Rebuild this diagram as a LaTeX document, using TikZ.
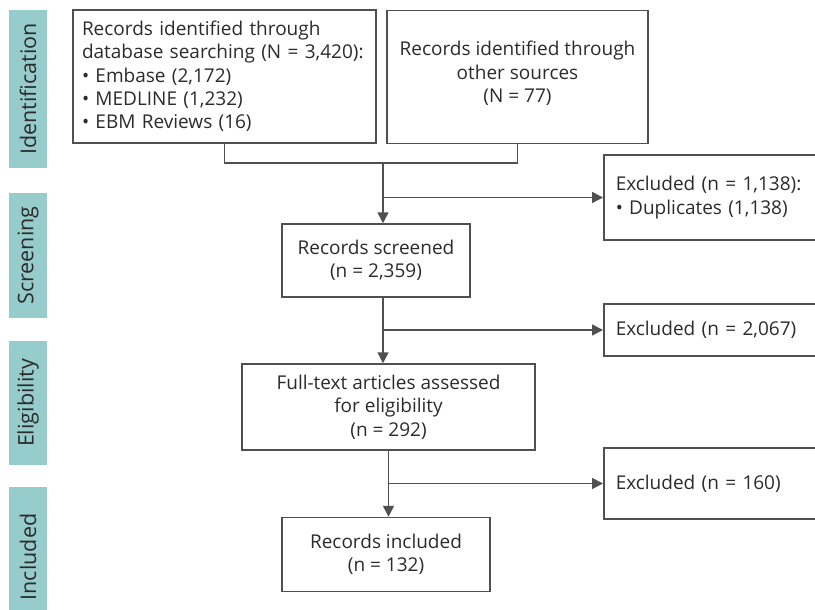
\documentclass[tikz,border=0pt]{standalone}
\usepackage{fontspec}
\setmainfont{Open Sans}
\usetikzlibrary{arrows.meta}
\definecolor{band}{HTML}{96CCCB}
\definecolor{txt}{HTML}{2B2B2B}
\definecolor{ln}{HTML}{505050}
\begin{document}
\begin{tikzpicture}[x=1pt,y=-1pt,
  box/.style={draw=ln,line width=1.5pt,text=txt,font=\fontsize{19}{23.3}\selectfont,inner sep=0pt},
  bandbox/.style={fill=band,text=txt,font=\fontsize{21.5}{24}\selectfont,inner sep=0pt,minimum width=38pt},
  line/.style={draw=ln,line width=1.5pt},
  arr/.style={line,-{Triangle[length=11pt,width=11pt]}}]
\useasboundingbox (0,0) rectangle (815,610);
% bands
\node[bandbox,minimum height=158pt] (b1) at (28,89) {\rotatebox{90}{Identification}};
\node[bandbox,minimum height=125pt] (b2) at (28,255.5) {\rotatebox{90}{Screening}};
\node[bandbox,minimum height=124pt] (b3) at (28,403) {\rotatebox{90}{Eligibility}};
\node[bandbox,minimum height=140pt] (b4) at (28,557) {\rotatebox{90}{Included}};
% boxes
\node[box,minimum width=303pt,minimum height=133pt,align=left,text width=285pt] (box1) at (224.5,76.5)
 {Records identified through\\database searching (N = 3,420):\\• Embase (2,172)\\• MEDLINE (1,232)\\• EBM Reviews (16)};
\node[box,minimum width=261pt,minimum height=133pt,align=center] (box2) at (517.5,77)
 {Records identified through\\other sources\\(N = 77)\\[-13pt]};
\node[box,anchor=west,minimum width=240pt,minimum height=85pt,align=left,text width=216pt] (ex1) at (603,197.5)
 {Excluded (n = 1,138):\\• Duplicates (1,138)};
\node[box,minimum width=188pt,minimum height=73pt,align=center] (scr) at (376,260.5)
 {Records screened\\(n = 2,359)};
\node[box,anchor=west,minimum width=240pt,minimum height=52pt,align=left,text width=216pt] (ex2) at (603,330)
 {Excluded (n = 2,067)};
\node[box,minimum width=293pt,minimum height=86pt,align=center] (full) at (388.5,407)
 {Full-text articles assessed\\for eligibility\\(n = 292)};
\node[box,anchor=west,minimum width=240pt,minimum height=71pt,align=left,text width=216pt] (ex3) at (603,483.5)
 {Excluded (n = 160)};
\node[box,minimum width=208pt,minimum height=74pt,align=center] (inc) at (386,554.5)
 {Records included\\(n = 132)};
% connectors
\coordinate (j1) at (383,163);
\coordinate (j2) at (383,330);
\draw[line] (box1.south) |- (j1) -| (box2.south);
\draw[arr] (j1) -- (j1 |- scr.north);
\draw[arr] (j1 |- ex1.west) -- (ex1.west);
\draw[arr] (scr.south -| j1) -- (j1 |- full.north);
\draw[arr] (j2) -- (ex2.west);
\draw[arr] (full.south) -- (full.south |- inc.north);
\draw[arr] (full.south |- ex3.west) -- (ex3.west);
\end{tikzpicture}
\end{document}
